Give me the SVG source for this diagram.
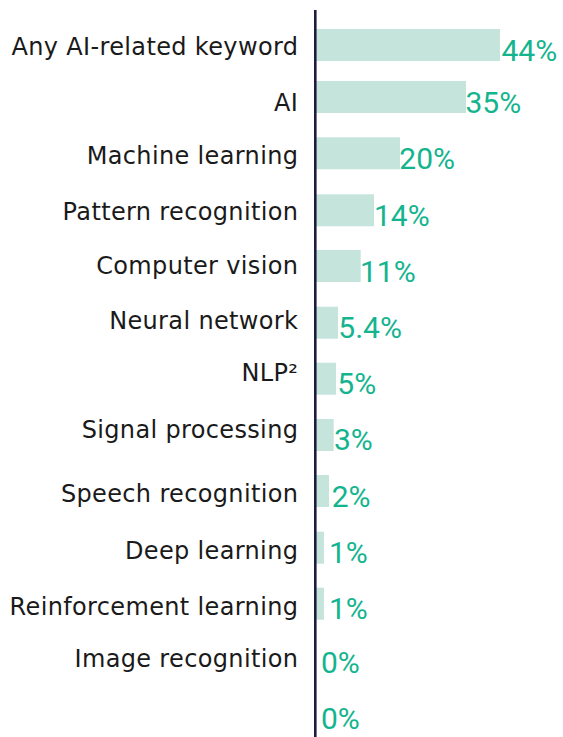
<svg xmlns="http://www.w3.org/2000/svg" width="563" height="737" viewBox="0 0 563 737">
<style>
.lbl{font-family:"DejaVu Sans",sans-serif;font-size:24px;fill:#1a1a1a;text-anchor:end;letter-spacing:0.35px}
.val{font-family:Roboto,"Liberation Sans",sans-serif;font-size:30px;fill:#14b48e}
.bar{fill:#c5e4dc}
</style>
<rect width="563" height="737" fill="#ffffff"/>
<g id="labels">
<text class="lbl" x="298.3" y="55">Any AI-related keyword</text>
<text class="lbl" x="298.3" y="110.7">AI</text>
<text class="lbl" x="298.3" y="164">Machine learning</text>
<text class="lbl" x="298.3" y="220">Pattern recognition</text>
<text class="lbl" x="298.3" y="274.3">Computer vision</text>
<text class="lbl" x="298.3" y="329">Neural network</text>
<text class="lbl" x="298.3" y="381">NLP²</text>
<text class="lbl" x="298.3" y="438.3">Signal processing</text>
<text class="lbl" x="298.3" y="501.7">Speech recognition</text>
<text class="lbl" x="298.3" y="559.3">Deep learning</text>
<text class="lbl" x="298.3" y="615">Reinforcement learning</text>
<text class="lbl" x="298.3" y="666.7">Image recognition</text>
</g>
<g id="bars">
<rect class="bar" x="316" y="29" width="184" height="32"/>
<rect class="bar" x="316" y="81" width="150" height="32"/>
<rect class="bar" x="316" y="137.3" width="84" height="32"/>
<rect class="bar" x="316" y="194.3" width="58" height="32"/>
<rect class="bar" x="316" y="250" width="44.7" height="32"/>
<rect class="bar" x="316" y="306.7" width="22" height="32"/>
<rect class="bar" x="316" y="362.7" width="20" height="32"/>
<rect class="bar" x="316" y="419" width="17.7" height="32"/>
<rect class="bar" x="316" y="475" width="13" height="32"/>
<rect class="bar" x="316" y="531.7" width="8" height="32"/>
<rect class="bar" x="316" y="587.7" width="8" height="32"/>
</g>
<g id="axis">
<line x1="315.3" y1="10" x2="315.3" y2="737" stroke="#1f1d3d" stroke-width="2.6"/>
</g>
<g id="values">
<text class="val" x="501.5" y="61">44%</text>
<text class="val" x="465.5" y="112.7">35%</text>
<text class="val" x="399.3" y="168.5">20%</text>
<text class="val" x="374" y="226">14%</text>
<text class="val" x="360" y="281.7">11%</text>
<text class="val" x="338.3" y="338.3">5.4%</text>
<text class="val" x="337.3" y="394.3">5%</text>
<text class="val" x="334" y="450">3%</text>
<text class="val" x="331.7" y="506.5">2%</text>
<text class="val" x="329" y="562.7">1%</text>
<text class="val" x="329" y="619">1%</text>
<text class="val" x="321" y="672.7">0%</text>
<text class="val" x="321" y="729.3">0%</text>
</g>
</svg>
